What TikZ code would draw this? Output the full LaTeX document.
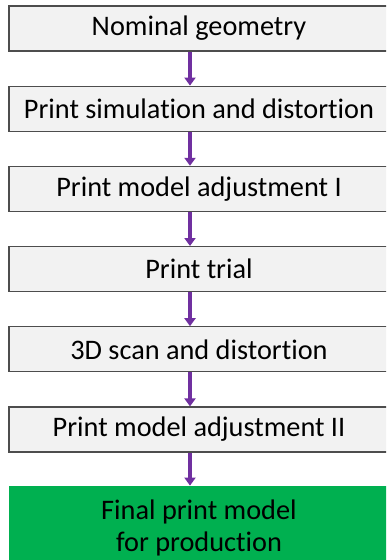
\documentclass[tikz,border=0pt]{standalone}
\usepackage{fontspec}
\setmainfont{Carlito}[Ligatures=NoCommon]
\usetikzlibrary{positioning}
\usetikzlibrary{arrows.meta}
\definecolor{stepgray}{HTML}{F2F2F2}
\definecolor{stepedge}{HTML}{4D4D4D}
\definecolor{arrowpurple}{HTML}{7030A0}
\definecolor{finalgreen}{HTML}{00B050}

\begin{document}
\begin{tikzpicture}[x=1pt,y=1pt,
	stepbox/.style={draw=stepedge,line width=1.2pt,fill=stepgray,minimum width=380pt,minimum height=45pt,inner sep=0pt,font=\fontsize{28.3}{32}\selectfont},
	finalbox/.style={fill=finalgreen,minimum width=380pt,minimum height=84pt,inner sep=0pt,align=center,font=\fontsize{28.3}{32}\selectfont},
	flow/.style={draw=arrowpurple,line width=3.2pt,-{Triangle[width=11pt,length=8pt]}}]
	\useasboundingbox (0,0) rectangle (386,-560);
	\clip (0,0) rectangle (386,-560);
			\node[stepbox] (geom) at (199,-28.5) {Nominal geometry};
			\node[stepbox] (sim) [below = 34pt of geom] {Print simulation and distortion};
			\node[stepbox] (adj1) [below = 34pt of sim] {Print model adjustment I};
			\node[stepbox] (trial) [below = 34pt of adj1] {Print trial};
			\node[stepbox] (scan) [below = 34pt of trial] {3D scan and distortion};
			\node[stepbox] (adj2) [below = 34pt of scan] {Print model adjustment II};
			\node[finalbox] (final) [below = 33pt of adj2] {Final print model\\for production};
			
			\draw[flow] ([xshift=-9pt]geom.south) -- ([xshift=-9pt]sim.north);
			\draw[flow] ([xshift=-9pt]sim.south) -- ([xshift=-9pt]adj1.north);
			\draw[flow] ([xshift=-9pt]adj1.south) -- ([xshift=-9pt]trial.north);
			\draw[flow] ([xshift=-9pt]trial.south) -- ([xshift=-9pt]scan.north);
			\draw[flow] ([xshift=-9pt]scan.south) -- ([xshift=-9pt]adj2.north);
			\draw[flow] ([xshift=-9pt]adj2.south) -- ([xshift=-9pt]final.north);
\end{tikzpicture}
\end{document}
